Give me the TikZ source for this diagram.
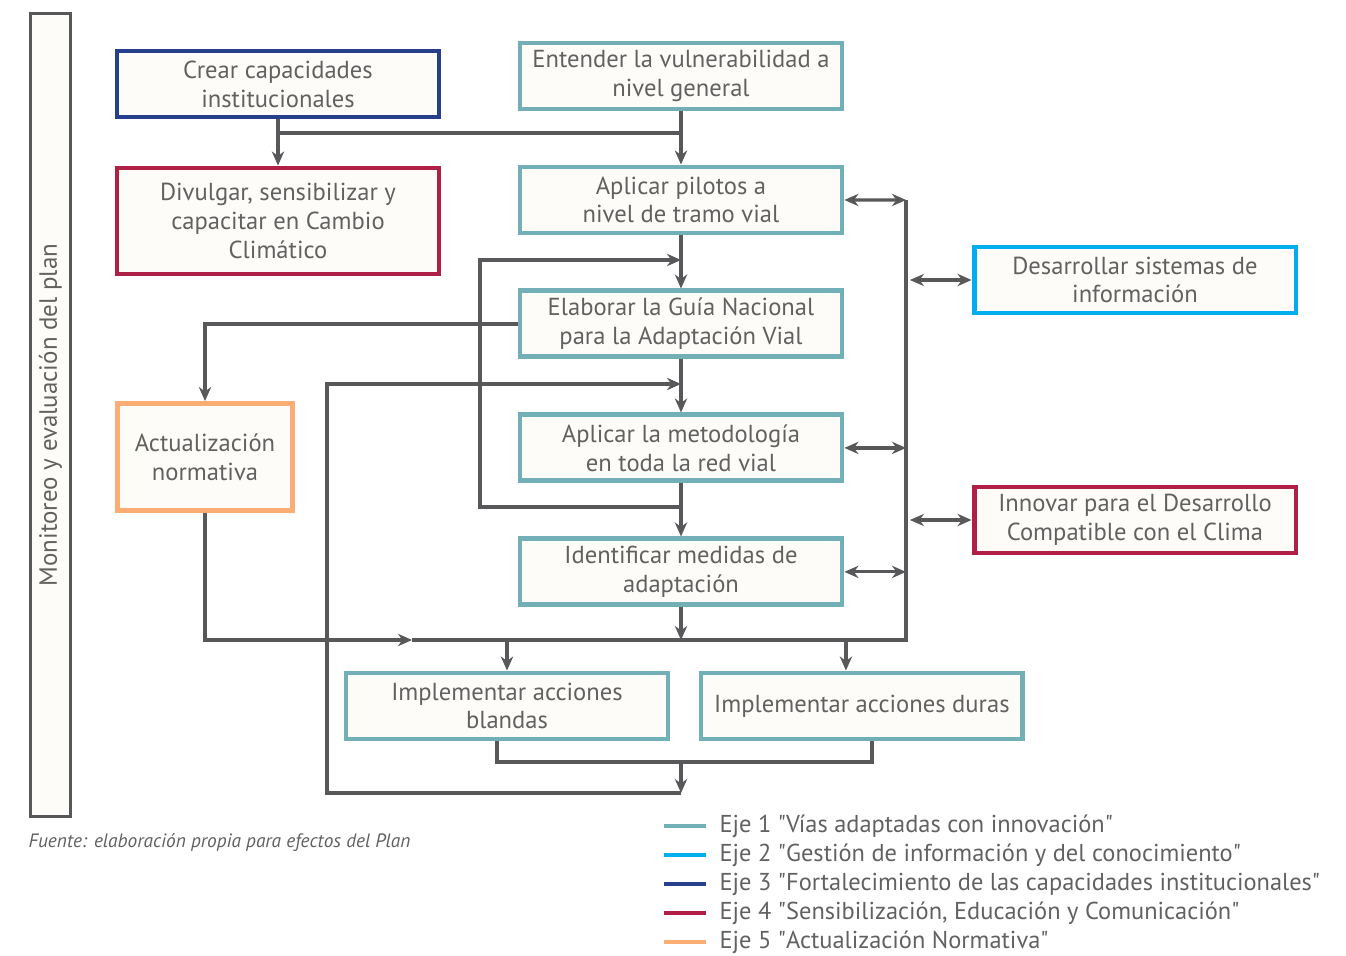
\documentclass[tikz,border=0pt]{standalone}
\usepackage{fontspec}
\setmainfont{PT Sans}
\usetikzlibrary{arrows.meta,positioning}

\definecolor{eje1}{HTML}{73AFB6}
\definecolor{eje2}{HTML}{00AEEF}
\definecolor{eje3}{HTML}{26408E}
\definecolor{eje4}{HTML}{B01F45}
\definecolor{eje5}{HTML}{FBAD73}
\definecolor{papel}{HTML}{FDFCF9}
\definecolor{linea}{HTML}{58585A}
\definecolor{texto}{HTML}{616161}

\begin{document}
\begin{tikzpicture}[
            x = 0.02cm, y = -0.02cm, % one unit is one pixel of the page
            > = {Stealth[length=8pt,width=7pt]}, % arrow head style
            node distance = 2.48cm, % distance between boxes of the column
            line width = 1.8pt,
            color = linea,
            caja/.style = {draw=#1, line width=2.8pt, fill=papel, text=texto,
                align=center, inner sep=2pt, minimum width=6.44cm,
                minimum height=1.32cm, font=\fontsize{14}{16.4}\selectfont},
            caja/.default = eje1,
            leyenda/.style = {anchor=west, inner sep=0pt, text=texto,
                font=\fontsize{13.9}{14}\selectfont}
        ]
	\useasboundingbox (0,0) rectangle (1346,956);

	\node[draw=linea, line width=1.5pt, fill=papel, rotate=90, text=texto,
		minimum width=16.06cm, minimum height=0.8cm,
		font=\fontsize{14.2}{14}\selectfont] (monitoreo) at (50.5,415) {Monitoreo y evaluación del plan};

	\node[caja] (entender) at (681,76) {Entender la vulnerabilidad a\\nivel general};
	\node[caja] (pilotos) [below of=entender] {Aplicar pilotos a\\nivel de tramo vial};
	\node[caja] (guia) [below of=pilotos] {Elaborar la Guía Nacional\\para la Adaptación Vial};
	\node[caja] (metodo) [below of=guia] {Aplicar la metodología\\en toda la red vial};
	\node[caja] (medidas) [below of=metodo] {Identificar medidas de\\adaptación};

	\node[caja=eje3] (crear) at (278,84) {Crear capacidades\\institucionales};
	\node[caja=eje4, minimum height=2.12cm] (divulgar) at (278,221) {Divulgar, sensibilizar y\\capacitar en Cambio\\Climático};
	\node[caja=eje5, minimum width=3.5cm, minimum height=2.14cm] (normativa) at (205,457) {Actualización\\normativa};
	\node[caja=eje2] (sistemas) at (1135,280) {Desarrollar sistemas de\\información};
	\node[caja=eje4] (innovar) at (1135,520) {Innovar para el Desarrollo\\Compatible con el Clima};
	\node[caja] (blandas) at (507,706) {Implementar acciones\\blandas};
	\node[caja] (duras) [right of=blandas, node distance=7.1cm] {Implementar acciones duras};

	\coordinate (cruce) at (681,133);
	\coordinate (lazo1b) at (480,507);
	\coordinate (lazo1a) at (480,260);
	\coordinate (lazo2) at (327,384);
	\coordinate (union) at (681,762);
	\coordinate (fondo) at (681,793);
	\coordinate (flecha) at (412,640);
	\coordinate (bus) at (906,640);
	\coordinate (eje) at (906,200);
	\coordinate (bl) at ([xshift=-0.2cm]blandas.south);
	\coordinate (du) at ([xshift=0.2cm]duras.south);
	\coordinate (dn) at ([xshift=-0.32cm]duras.north);

	\draw[->] (crear) -- (divulgar);
	\draw (crear.south |- cruce) -- (cruce);
	\draw[->] (entender) -- (pilotos);
	\draw[->] (pilotos) -- (guia);
	\draw[->] (guia) -- (metodo);
	\draw[->] (metodo) -- (medidas);
	\draw[->] (metodo.south |- lazo1b) -- (lazo1b) -- (lazo1a) -- (pilotos.south |- lazo1a);
	\draw[->] (guia.west) -| (normativa.north);

	\draw (bl) |- (union) -| (du);
	\draw[->] (union) -- (fondo);
	\draw[->] (fondo) -| (lazo2) -- (guia.south |- lazo2);

	\draw[->] (normativa.south) |- (flecha);
	\draw (flecha) -- (bus) -- (eje);
	\draw[->] (medidas) -- (medidas.south |- bus);
	\draw[->] (blandas.north |- bus) -- (blandas.north);
	\draw[->] (dn |- bus) -- (dn);

	\draw[<->] (pilotos.east) -- (eje);
	\draw[<->] (metodo.east) -- (metodo.east -| eje);
	\draw[<->] (medidas.east) -- (medidas.east -| eje);
	\draw[<->] ([xshift=0.08cm]sistemas.west -| eje) -- (sistemas.west);
	\draw[<->] ([xshift=0.08cm]innovar.west -| eje) -- (innovar.west);

	\node[anchor=west, inner sep=0pt, text=texto,
		font=\itshape\fontsize{11}{12}\selectfont] (fuente) at (27,843) {Fuente: elaboración propia para efectos del Plan};

	\foreach \c/\t [count=\i] in {eje1/{Eje 1 \textquotedbl Vías adaptadas con innovación\textquotedbl},
		eje2/{Eje 2 \textquotedbl Gestión de información y del conocimiento\textquotedbl},
		eje3/{Eje 3 \textquotedbl Fortalecimiento de las capacidades institucionales\textquotedbl},
		eje4/{Eje 4 \textquotedbl Sensibilización, Educación y Comunicación\textquotedbl},
		eje5/{Eje 5 \textquotedbl Actualización Normativa\textquotedbl}} {
		\node[leyenda] (eje\i) at (718,797+29*\i) {\t};
		\draw[\c, line width=2.8pt] (664,797+29*\i) -- (706,797+29*\i);
	}
\end{tikzpicture}
\end{document}
